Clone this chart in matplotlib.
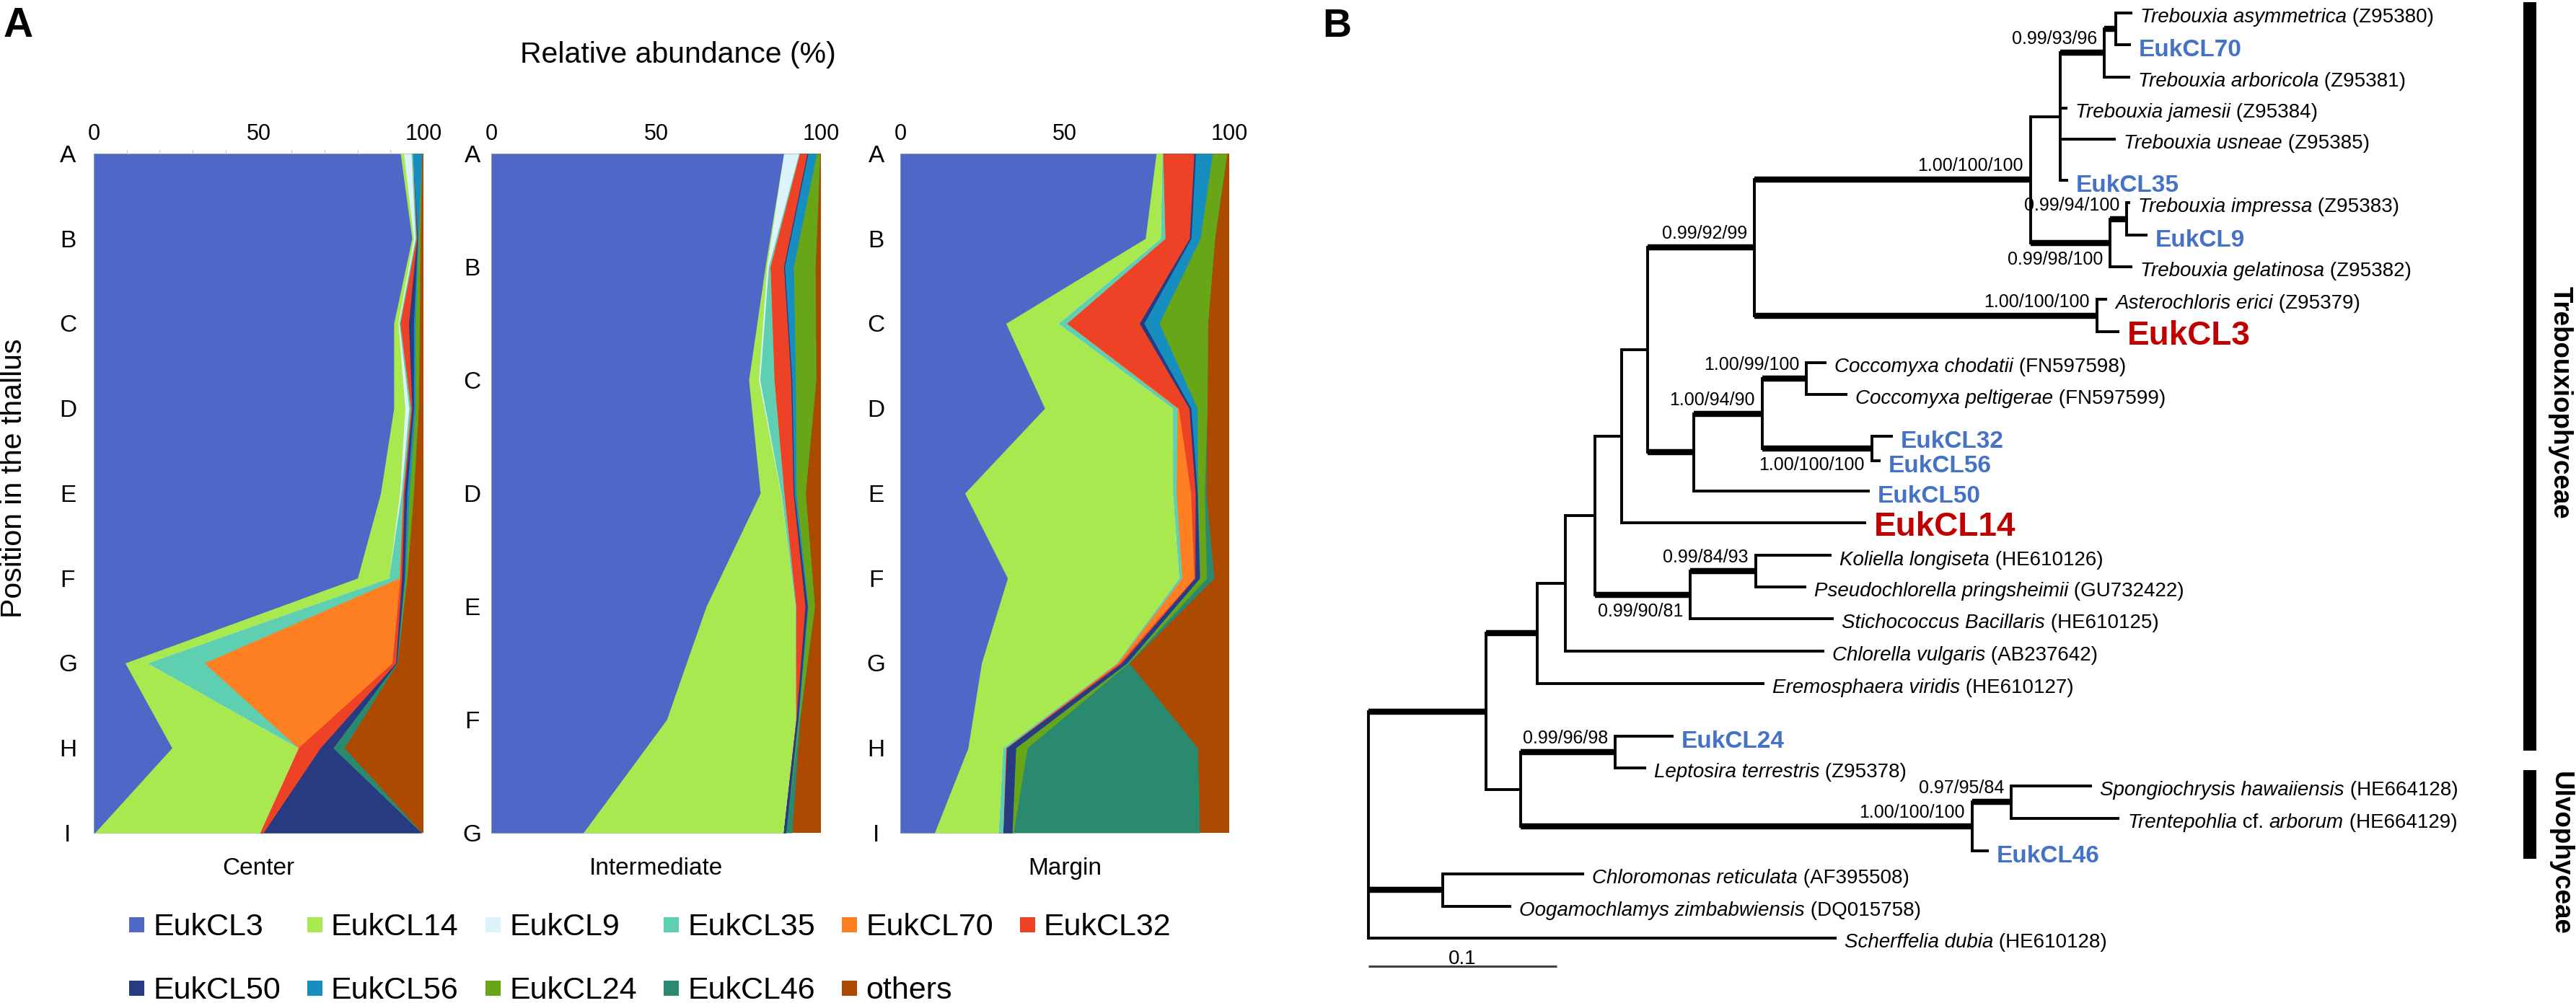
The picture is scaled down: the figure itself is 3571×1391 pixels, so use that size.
import numpy as np
import matplotlib
matplotlib.use("Agg")
import matplotlib.pyplot as plt
from matplotlib.patches import Rectangle

plt.rcParams['font.family'] = ['Liberation Sans', 'DejaVu Sans']

W, H = 3571, 1391

# ---------------- panel A data ----------------
series = ["EukCL3", "EukCL14", "EukCL9", "EukCL35", "EukCL70", "EukCL32",
          "EukCL50", "EukCL56", "EukCL24", "EukCL46", "others"]
series_colors = ["#4F67C6", "#A8E94F", "#DDF3FB", "#5ECFB1", "#FF8022", "#EE4226",
                 "#283B80", "#168EBF", "#68A618", "#2A8A6F", "#AB4A00"]

center_pos = ["A", "B", "C", "D", "E", "F", "G", "H", "I"]
center_rows = [
    [93.0, 1.0, 2.3, 0.4, 0.0, 0.0, 0.0, 2.8, 0.0, 0.0, 0.5],
    [96.5, 0.5, 0.5, 0.3, 0.0, 0.2, 0.2, 0.3, 0.5, 0.0, 1.0],
    [91.0, 1.3, 0.3, 0.3, 0.0, 2.6, 1.5, 0.5, 1.3, 0.0, 1.2],
    [91.0, 3.4, 1.2, 0.5, 0.0, 0.4, 0.5, 0.5, 1.0, 0.0, 1.5],
    [87.0, 5.8, 0.5, 0.5, 0.0, 0.4, 0.8, 0.7, 1.3, 0.0, 3.0],
    [80.0, 9.5, 0.0, 3.1, 0.3, 0.5, 0.8, 0.3, 0.5, 0.0, 5.0],
    [9.5, 6.7, 0.0, 17.3, 57.0, 1.1, 0.3, 0.0, 0.0, 0.2, 7.9],
    [23.7, 38.3, 0.0, 0.0, 0.0, 6.7, 3.9, 0.0, 0.0, 3.4, 24.0],
    [0.3, 50.0, 0.0, 0.0, 0.0, 1.1, 48.0, 0.0, 0.0, 0.1, 0.5],
]

intermediate_pos = ["A", "B", "C", "D", "E", "F", "G"]
intermediate_rows = [
    [88.7, 0.0, 4.6, 0.2, 0.0, 2.3, 0.3, 2.6, 1.0, 0.0, 0.3],
    [83.1, 0.5, 0.5, 0.5, 0.0, 4.1, 0.3, 2.7, 6.6, 0.0, 1.7],
    [78.1, 3.0, 0.4, 4.3, 0.0, 5.1, 0.3, 1.1, 6.2, 0.0, 1.5],
    [81.6, 6.2, 0.1, 0.9, 0.0, 2.8, 0.3, 0.6, 2.8, 0.0, 4.7],
    [65.2, 27.0, 0.0, 0.2, 0.0, 2.8, 0.7, 0.2, 2.0, 0.0, 1.9],
    [53.2, 39.1, 0.0, 0.0, 0.0, 0.2, 0.5, 0.2, 0.3, 0.2, 6.3],
    [27.9, 60.6, 0.0, 0.0, 0.0, 0.0, 0.9, 0.0, 0.0, 1.8, 8.8],
]

margin_pos = ["A", "B", "C", "D", "E", "F", "G", "H", "I"]
margin_rows = [
    [77.8, 1.8, 0.0, 0.2, 0.0, 9.5, 0.5, 5.1, 4.4, 0.0, 0.7],
    [74.5, 4.6, 0.0, 1.4, 0.0, 7.4, 0.5, 2.8, 4.4, 0.0, 4.4],
    [32.1, 15.9, 0.0, 2.6, 0.0, 22.1, 1.4, 4.6, 14.8, 0.0, 6.5],
    [43.9, 38.9, 0.0, 1.4, 0.4, 3.2, 0.6, 1.9, 3.0, 0.0, 6.7],
    [19.6, 63.2, 0.0, 1.1, 4.4, 1.4, 0.6, 0.1, 2.1, 0.5, 7.0],
    [32.6, 52.1, 0.0, 0.9, 3.7, 0.3, 1.4, 0.1, 2.0, 2.3, 4.6],
    [24.7, 41.0, 0.0, 0.3, 0.6, 0.7, 1.6, 0.2, 0.3, 0.2, 30.4],
    [20.6, 10.6, 0.0, 0.9, 0.0, 0.2, 2.8, 0.0, 3.5, 51.8, 9.6],
    [10.4, 19.4, 0.0, 1.4, 0.0, 0.0, 2.8, 0.0, 0.4, 56.6, 9.0],
]

# ---------------- panel B data ----------------
leaf_keys = ["asym", "e70", "arbo", "jame", "usne", "e35", "impr", "e9", "gela",
             "aste", "e3", "chod", "pelt", "e32", "e56", "e50", "e14", "koli",
             "pseu", "stic", "chlo", "erem", "e24", "lept", "spon", "tren", "e46",
             "chlm", "ooga", "sche"]
leaf_labels = [
    "*Trebouxia asymmetrica* (Z95380)", "EukCL70", "*Trebouxia arboricola* (Z95381)",
    "*Trebouxia jamesii* (Z95384)", "*Trebouxia usneae* (Z95385)", "EukCL35",
    "*Trebouxia impressa* (Z95383)", "EukCL9", "*Trebouxia gelatinosa* (Z95382)",
    "*Asterochloris erici* (Z95379)", "EukCL3", "*Coccomyxa chodatii* (FN597598)",
    "*Coccomyxa peltigerae* (FN597599)", "EukCL32", "EukCL56", "EukCL50", "EukCL14",
    "*Koliella longiseta* (HE610126)", "*Pseudochlorella pringsheimii* (GU732422)",
    "*Stichococcus Bacillaris* (HE610125)", "*Chlorella vulgaris* (AB237642)",
    "*Eremosphaera viridis* (HE610127)", "EukCL24", "*Leptosira terrestris* (Z95378)",
    "*Spongiochrysis hawaiiensis* (HE664128)", "*Trentepohlia* cf. *arborum* (HE664129)",
    "EukCL46", "*Chloromonas reticulata* (AF395508)",
    "*Oogamochlamys zimbabwiensis* (DQ015758)", "*Scherffelia dubia* (HE610128)",
]
leaf_depth = [0.4057, 0.4050, 0.4046, 0.3713, 0.3969, 0.3716, 0.4046, 0.4138, 0.4057,
              0.3923, 0.3989, 0.2433, 0.2544, 0.2785, 0.2720, 0.2663, 0.2644, 0.2460,
              0.2326, 0.2471, 0.2421, 0.2103, 0.1621, 0.1475, 0.3843, 0.3989, 0.3295,
              0.1146, 0.0759, 0.2487]
leaf_row = [0.0, 1.0, 2.0, 2.97, 3.95, 5.24, 5.94, 6.95, 7.95, 8.96, 9.98, 10.95,
            11.94, 13.25, 14.02, 14.97, 15.96, 16.98, 17.97, 18.96, 19.98, 20.99,
            22.64, 23.63, 24.2, 25.21, 26.23, 26.95, 27.97, 28.96]
red_leaves = ["EukCL3", "EukCL14"]

# internal node: (depth, children)
tree_nodes = {
    "root": (0.0, ["A", "CH", "sche"]),
    "A": (0.0625, ["T", "U"]),
    "T": (0.0897, ["T2", "erem"]),
    "T2": (0.1046, ["T3", "chlo"]),
    "T3": (0.1203, ["T4", "K"]),
    "T4": (0.1345, ["T5", "e14"]),
    "T5": (0.1483, ["TB", "C"]),
    "TB": (0.2050, ["TR", "AS"]),
    "TR": (0.3517, ["TR1", "TR2"]),
    "TR1": (0.3674, ["TR3", "jame", "usne", "e35"]),
    "TR3": (0.3908, ["TR4", "arbo"]),
    "TR4": (0.3969, ["asym", "e70"]),
    "TR2": (0.3939, ["TR5", "gela"]),
    "TR5": (0.4027, ["impr", "e9"]),
    "AS": (0.3870, ["aste", "e3"]),
    "C": (0.1728, ["C1", "e50"]),
    "C1": (0.2092, ["C2", "C3"]),
    "C2": (0.2326, ["chod", "pelt"]),
    "C3": (0.2674, ["e32", "e56"]),
    "K": (0.1709, ["K1", "stic"]),
    "K1": (0.2057, ["koli", "pseu"]),
    "U": (0.0808, ["N24", "N46"]),
    "N24": (0.1310, ["e24", "lept"]),
    "N46": (0.3207, ["NSp", "e46"]),
    "NSp": (0.3414, ["spon", "tren"]),
    "CH": (0.0395, ["chlm", "ooga"]),
}
thick_branches = ["A", "CH", "T", "TB", "C", "TR", "AS", "TR2", "TR3", "TR4", "TR5",
                  "C1", "C2", "C3", "K", "K1", "N24", "N46", "NSp"]
supports = {
    "TR3": ("0.99/93/96", "above"), "TR": ("1.00/100/100", "above"),
    "TR5": ("0.99/94/100", "above"), "TR2": ("0.99/98/100", "below"),
    "AS": ("1.00/100/100", "above"), "TB": ("0.99/92/99", "above"),
    "C2": ("1.00/99/100", "above"), "C1": ("1.00/94/90", "above"),
    "C3": ("1.00/100/100", "below"), "K1": ("0.99/84/93", "above"),
    "K": ("0.99/90/81", "below"), "N24": ("0.99/96/98", "above"),
    "NSp": ("0.97/95/84", "above"), "N46": ("1.00/100/100", "above"),
}
clade_names = ["Trebouxiophyceae", "Ulvophyceae"]
clade_span = [(-0.33, 23.09), (23.70, 26.48)]
clade_text_row = [12.2, 26.3]
scale_length = 0.1


def fx(px):
    return px / W


def fy(py):
    return 1 - py / H


fig = plt.figure(figsize=(W / 100, H / 100), dpi=100)

# ---------------- panel A ----------------
def stacked(left_px, width_px, rows, pos, name, pad, minor=False):
    ax = fig.add_axes([fx(left_px), fy(1155), width_px / W, (1155 - 213) / H])
    vals = np.array(rows)
    y = np.arange(len(rows))
    cum = np.cumsum(vals, axis=1)
    # draw from the right so each band sits on top of the next one
    for j in range(len(series) - 1, -1, -1):
        ax.fill_betweenx(y, 0, cum[:, j], color=series_colors[j], lw=0)
    ax.set_xlim(0, 100)
    ax.set_ylim(len(rows) - 1, 0)
    for s in ax.spines.values():
        s.set_visible(False)
    ax.set_xticks([0, 50, 100])
    ax.set_yticks(y)
    ax.set_yticklabels(pos, ha="center")
    ax.tick_params(axis="x", top=True, labeltop=True, bottom=False, labelbottom=False,
                   length=0, pad=9, labelsize=22)
    ax.tick_params(axis="y", length=0, pad=pad, labelsize=24)
    if minor:
        ax.set_xticks(np.arange(0, 101, 10), minor=True)
        ax.tick_params(axis="x", which="minor", top=True, bottom=False, length=4,
                       color="#d0d0d0", width=1)
    ax.text(0.5, -0.053, name, transform=ax.transAxes, ha="center", va="center",
            fontsize=24)
    return ax


stacked(130, 457, center_rows, center_pos, "Center", 26, minor=True)
stacked(681, 457, intermediate_rows, intermediate_pos, "Intermediate", 19)
stacked(1248, 456, margin_rows, margin_pos, "Margin", 24)

fig.text(fx(940), fy(76), "Relative abundance (%)", ha="center", va="center", fontsize=29.5)
fig.text(fx(19), fy(663), "Position in the thallus", ha="center", va="center",
         rotation=90, fontsize=29.5)
fig.text(fx(5), fy(51), "A", ha="left", va="baseline", fontsize=41, fontweight="bold")
fig.text(fx(1833), fy(51), "B", ha="left", va="baseline", fontsize=40, fontweight="bold")

# legend
for i, (name, col) in enumerate(zip(series, series_colors)):
    c, r = i % 6, i // 6
    x0 = 179 + 247 * c
    yc = 1282 + 88 * r
    fig.add_artist(Rectangle((fx(x0), fy(yc + 10.5)), 21 / W, 21 / H,
                             transform=fig.transFigure, color=col, lw=0))
    fig.text(fx(x0 + 33), fy(yc + 15), name, ha="left", va="baseline", fontsize=31)

# ---------------- panel B ----------------
PX_UNIT, ROW_PX, X0, Y0 = 2610.0, 44.3, 1897, 18
axt = fig.add_axes([fx(1780), 0, (W - 1780) / W, 1])
axt.set_xlim((1780 - X0) / PX_UNIT, (W - X0) / PX_UNIT)
axt.set_ylim((H - Y0) / ROW_PX, -Y0 / ROW_PX)
axt.axis("off")

leaf_index = {k: i for i, k in enumerate(leaf_keys)}


def node_y(key):
    if key in leaf_index:
        return leaf_row[leaf_index[key]]
    ys = [node_y(c) for c in tree_nodes[key][1]]
    return (min(ys) + max(ys)) / 2


def node_depth(key):
    if key in leaf_index:
        return leaf_depth[leaf_index[key]]
    return tree_nodes[key][0]


thin, thick = 2.8, 6.1
for key, (d, children) in tree_nodes.items():
    ys = [node_y(c) for c in children]
    axt.plot([d, d], [min(ys), max(ys)], color="black", lw=thin,
             solid_capstyle="projecting")
    for c, yc in zip(children, ys):
        axt.plot([d, node_depth(c)], [yc, yc], color="black",
                 lw=thick if c in thick_branches else thin, solid_capstyle="butt")

for key, (txt, side) in supports.items():
    d = tree_nodes[key][0]
    yb = node_y(key) + (-0.27 if side == "above" else 0.68)
    axt.text(d - 10 / PX_UNIT, yb, txt, ha="right", va="baseline", fontsize=18)

renderer = fig.canvas.get_renderer()
inv = axt.transData.inverted()
gap = 11 / PX_UNIT
for key, label, d, r in zip(leaf_keys, leaf_labels, leaf_depth, leaf_row):
    if label.startswith("EukCL"):
        if label in red_leaves:
            fs, col, off = 33, "#C00000", 0.415
        else:
            fs, col, off = 24, "#4472C4", 0.36
        axt.text(d + gap, r + off, label, ha="left", va="baseline", fontsize=fs,
                 fontweight="bold", color=col)
        continue
    cur = d + gap
    for i, part in enumerate(label.split("*")):
        if not part:
            continue
        t = axt.text(cur, r + 0.30, part, ha="left", va="baseline", fontsize=20,
                     style="italic" if i % 2 == 1 else "normal")
        bb = t.get_window_extent(renderer)
        cur = inv.transform((bb.x1, bb.y0))[0]

# scale bar
sb_row = (1340 - Y0) / ROW_PX
axt.plot([0, scale_length], [sb_row, sb_row], color="#404040", lw=2.2,
         solid_capstyle="butt")
axt.text(scale_length / 2, sb_row - 0.07, "0.1", ha="center", va="baseline", fontsize=20)

# clade bars
bar_x = (3507 - X0) / PX_UNIT
txt_x = (3549 - X0) / PX_UNIT
for name, (r0, r1), tr in zip(clade_names, clade_span, clade_text_row):
    axt.plot([bar_x, bar_x], [r0, r1], color="black", lw=13, solid_capstyle="butt")
    axt.text(txt_x, tr, name, rotation=270, ha="center", va="center", fontsize=26.5,
             fontweight="bold")

fig.savefig("out.png", dpi=100)
